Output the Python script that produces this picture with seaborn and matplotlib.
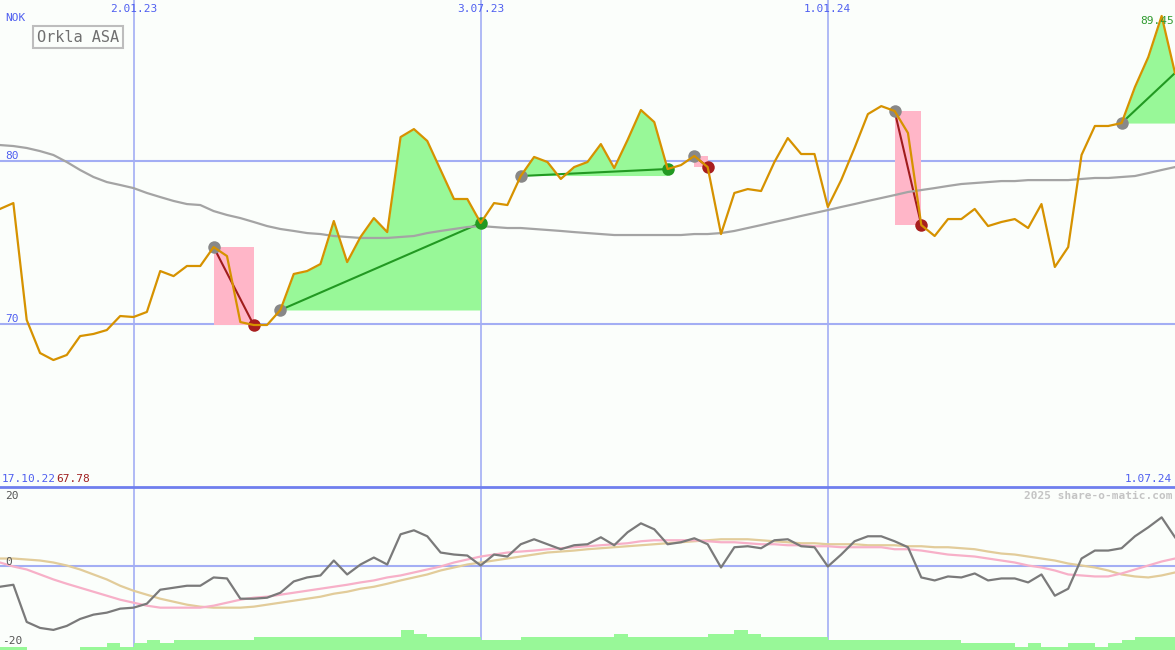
import numpy as np
import pandas as pd
import seaborn as sns
import matplotlib
matplotlib.use("Agg")
import matplotlib.pyplot as plt

# weekly closes, Orkla ASA (NOK)
price = [77.06, 77.42, 70.25, 68.22, 67.79, 68.10, 69.26, 69.39, 69.63, 70.49,
         70.43, 70.74, 73.25, 72.94, 73.56, 73.56, 74.72, 74.17, 70.12, 69.94,
         69.94, 70.86, 73.07, 73.25, 73.68, 76.32, 73.80, 75.34, 76.50, 75.64,
         81.47, 81.96, 81.23, 79.45, 77.67, 77.67, 76.20, 77.42, 77.30, 79.08,
         80.25, 79.94, 78.90, 79.63, 79.94, 81.04, 79.57, 81.29, 83.13, 82.39,
         79.51, 79.75, 80.31, 79.63, 75.52, 78.04, 78.28, 78.16, 79.94, 81.41,
         80.43, 80.43, 77.18, 78.83, 80.80, 82.88, 83.37, 83.07, 81.72, 76.07,
         75.40, 76.44, 76.44, 77.06, 76.01, 76.26, 76.44, 75.89, 77.36, 73.50,
         74.72, 80.37, 82.15, 82.15, 82.33, 84.54, 86.38, 88.90, 85.40]

# long moving average (grey)
ma = [80.98, 80.92, 80.80, 80.61, 80.37, 79.94, 79.45, 79.02, 78.71, 78.53,
      78.34, 78.04, 77.79, 77.55, 77.36, 77.30, 76.93, 76.69, 76.50, 76.26,
      76.01, 75.83, 75.71, 75.58, 75.52, 75.40, 75.34, 75.28, 75.28, 75.28,
      75.34, 75.40, 75.58, 75.71, 75.83, 75.95, 76.01, 75.95, 75.89, 75.89,
      75.83, 75.77, 75.71, 75.64, 75.58, 75.52, 75.46, 75.46, 75.46, 75.46,
      75.46, 75.46, 75.52, 75.52, 75.58, 75.71, 75.89, 76.07, 76.26, 76.44,
      76.63, 76.81, 76.99, 77.18, 77.36, 77.55, 77.73, 77.91, 78.10, 78.22,
      78.34, 78.47, 78.59, 78.65, 78.71, 78.77, 78.77, 78.83, 78.83, 78.83,
      78.83, 78.90, 78.96, 78.96, 79.02, 79.08, 79.26, 79.45, 79.63]

# lower panel: momentum (grey), slow (pink), signal (tan)
momentum = [-6.1, -5.5, -16.7, -18.5, -19.1, -17.9, -15.8, -14.5, -13.9, -12.7,
            -12.4, -11.2, -7.0, -6.4, -5.8, -5.8, -3.3, -3.6, -9.7, -9.7,
            -9.4, -7.9, -4.5, -3.3, -2.7, 1.8, -2.4, 0.6, 2.7, 0.6,
            9.7, 10.9, 9.1, 4.2, 3.6, 3.3, 0.3, 3.6, 3.0, 6.7,
            8.2, 6.7, 5.2, 6.4, 6.7, 8.8, 6.4, 10.3, 13.0, 11.2,
            6.7, 7.3, 8.5, 6.7, -0.3, 5.8, 6.1, 5.5, 7.9, 8.2,
            6.1, 5.8, 0.0, 3.6, 7.6, 9.1, 9.1, 7.6, 5.8, -3.3,
            -4.2, -3.0, -3.3, -2.1, -4.2, -3.6, -3.6, -4.8, -2.4, -8.8,
            -6.7, 2.4, 4.8, 4.8, 5.5, 9.1, 11.8, 14.8, 8.8]
slow = [1.2, 0.0, -0.9, -2.4, -3.9, -5.2, -6.4, -7.6, -8.8, -10.0,
        -10.9, -11.8, -12.4, -12.4, -12.4, -12.4, -11.8, -10.9, -10.0, -9.4,
        -9.1, -8.5, -7.9, -7.3, -6.7, -6.1, -5.5, -4.8, -4.2, -3.3,
        -2.7, -1.8, -0.9, 0.0, 1.2, 2.1, 3.0, 3.6, 4.2, 4.5,
        4.8, 5.2, 5.5, 5.8, 6.1, 6.4, 6.7, 7.0, 7.6, 7.9,
        7.9, 7.9, 7.9, 7.6, 7.3, 7.3, 7.0, 6.7, 6.7, 6.4,
        6.4, 6.1, 6.1, 5.8, 5.8, 5.8, 5.8, 5.2, 5.2, 4.8,
        4.2, 3.6, 3.3, 3.0, 2.4, 1.8, 1.2, 0.3, -0.3, -1.2,
        -2.4, -2.7, -3.0, -3.0, -2.1, -0.9, 0.3, 1.5, 2.4]
signal = [2.4, 2.4, 2.1, 1.8, 1.2, 0.3, -0.9, -2.4, -3.9, -5.8,
          -7.3, -8.5, -9.7, -10.6, -11.5, -12.1, -12.4, -12.4, -12.4, -12.1,
          -11.5, -10.9, -10.3, -9.7, -9.1, -8.2, -7.6, -6.7, -6.1, -5.2,
          -4.2, -3.3, -2.4, -1.2, -0.3, 0.6, 1.2, 1.8, 2.4, 3.0,
          3.6, 4.2, 4.5, 4.8, 5.2, 5.5, 5.8, 6.1, 6.4, 6.7,
          7.0, 7.3, 7.6, 7.9, 8.2, 8.2, 8.2, 7.9, 7.6, 7.3,
          7.0, 7.0, 6.7, 6.7, 6.7, 6.4, 6.4, 6.4, 6.1, 6.1,
          5.8, 5.8, 5.5, 5.2, 4.5, 3.9, 3.6, 3.0, 2.4, 1.8,
          0.9, 0.3, -0.3, -1.2, -2.4, -3.0, -3.3, -2.7, -1.8]
volume = [1, 1, 0, 0, 0, 0, 1, 1, 2, 1,
          2, 3, 2, 3, 3, 3, 3, 3, 3, 4,
          4, 4, 4, 4, 4, 4, 4, 4, 4, 4,
          6, 5, 4, 4, 4, 4, 3, 3, 3, 4,
          4, 4, 4, 4, 4, 4, 5, 4, 4, 4,
          4, 4, 4, 5, 5, 6, 5, 4, 4, 4,
          4, 4, 3, 3, 3, 3, 3, 3, 3, 3,
          3, 3, 2, 2, 2, 2, 1, 2, 1, 1,
          2, 2, 1, 2, 3, 4, 4, 4, 4]

date_pos = [10, 36, 62]
date_labels = ["2.01.23", "3.07.23", "1.01.24"]

# trades: entry week, exit week, winner?, closed?
entries = [16, 21, 39, 52, 67, 84]
exits = [19, 36, 50, 53, 69, 88]
winners = [False, True, True, False, False, True]
closed = [True, True, True, True, True, False]

df = pd.DataFrame({"week": np.arange(len(price)), "price": price, "ma": ma,
                   "momentum": momentum, "slow": slow, "signal": signal,
                   "volume": volume})

bg = "#fbfefb"
grid = "#a3aef4"
blue = "#4f5ff0"
W, H = 1175, 650

fig = plt.figure(figsize=(W / 100, H / 100), dpi=100, facecolor=bg)
ax = fig.add_axes([0, 163 / H, 1, 487 / H])
ax2 = fig.add_axes([0, 0, 1, 163 / H])

for a in (ax, ax2):
    a.set_facecolor(bg)
    a.set_xlim(0, 88.0)
    a.set_xticks([])
    a.set_yticks([])
    for s in a.spines.values():
        s.set_visible(False)
    for x in date_pos:
        a.axvline(x, color=grid, lw=1.2, zorder=1)

ax.set_ylim(60.0, 89.88)
ax2.set_ylim(-25.15, 23.94)
ax.axhline(80, color=grid, lw=1.5, zorder=1)
ax.axhline(70, color=grid, lw=1.5, zorder=1)
ax2.axhline(0, color=grid, lw=1.5, zorder=1)
ax2.spines["top"].set_visible(True)
ax2.spines["top"].set_color("#6f7fee")
ax2.spines["top"].set_linewidth(2)

# trade shading, lines and markers
wk = df["week"].to_numpy()
pr = df["price"].to_numpy()
for e0, e1, win, done in zip(entries, exits, winners, closed):
    p0, p1 = pr[e0], pr[e1]
    if win:
        seg = slice(e0, e1 + 1)
        ax.fill_between(wk[seg], pr[seg], p0, where=pr[seg] >= p0,
                        interpolate=True, color="#98f898", lw=0, zorder=2)
        ax.fill_between(wk[seg], pr[seg], p0, where=pr[seg] < p0,
                        interpolate=True, color="#ffb6c8", lw=0, zorder=2)
        ax.plot([e0, e1], [p0, p1], color="#229922", lw=1.5, zorder=3)
    else:
        ax.fill_between([e0, e1], [p1, p1], [p0, p0], color="#ffb6c8",
                        lw=0, zorder=2)
        ax.plot([e0, e1], [p0, p1], color="#a01c1c", lw=1.5, zorder=3)
    ax.plot(e0, p0, "o", color="#888888", ms=9, mec="none", zorder=4)
    if done:
        ax.plot(e1, p1, "o", color="#229922" if win else "#a81e1e", ms=9,
                mec="none", zorder=4)

sns.lineplot(data=df, x="week", y="ma", ax=ax, color="#a4a4a4", lw=1.6, zorder=3)
sns.lineplot(data=df, x="week", y="price", ax=ax, color="#d69200", lw=1.6, zorder=5)

sns.lineplot(data=df, x="week", y="signal", ax=ax2, color="#e2cc9a", lw=1.6, zorder=3)
sns.lineplot(data=df, x="week", y="slow", ax=ax2, color="#f7b0c8", lw=1.6, zorder=3)
sns.lineplot(data=df, x="week", y="momentum", ax=ax2, color="#7a7a7a", lw=1.6, zorder=4)

ax3 = ax2.twinx()
ax3.bar(df["week"], df["volume"], width=1.0, align="edge", color="#98f898", lw=0)
ax3.set_ylim(0, 50)
ax3.set_xlim(0, 88.0)
ax3.set_yticks([])
for s in ax3.spines.values():
    s.set_visible(False)

for a in (ax, ax2, ax3):
    a.set_xlabel("")
    a.set_ylabel("")


def fx(x, y):
    return x / W, 1 - y / H


mono = "DejaVu Sans Mono"
for x, lab in zip(date_pos, date_labels):
    fig.text(*fx(x * 13.35, 9), lab, ha="center", va="center", color=blue,
             family=mono, fontsize=8)
fig.text(*fx(5, 18), "NOK", ha="left", va="center", color=blue, family=mono, fontsize=8)
fig.text(*fx(5, 156), "80", ha="left", va="center", color=blue, family=mono, fontsize=8)
fig.text(*fx(5, 319), "70", ha="left", va="center", color=blue, family=mono, fontsize=8)
fig.text(*fx(1140, 21), "89.45", ha="left", va="center", color="#2e9a2e",
         family=mono, fontsize=8)
fig.text(*fx(2, 479), "17.10.22", ha="left", va="center", color=blue,
         family=mono, fontsize=8)
fig.text(*fx(56, 479), "67.78", ha="left", va="center", color="#a02020",
         family=mono, fontsize=8)
fig.text(*fx(1172, 479), "1.07.24", ha="right", va="center", color=blue,
         family=mono, fontsize=8)
fig.text(*fx(78, 37), "Orkla ASA", ha="center", va="center", color="#707070",
         family=mono, fontsize=11,
         bbox=dict(boxstyle="square,pad=0.25", fc=bg, ec="#bdbdbd", lw=1.5))
fig.text(*fx(1172, 496), "2025 share-o-matic.com", ha="right", va="center",
         color="#c4c4c4", family=mono, fontsize=8, fontweight="bold")
fig.text(*fx(5, 496), "20", ha="left", va="center", color="#555555", family=mono, fontsize=8)
fig.text(*fx(5, 562), "0", ha="left", va="center", color="#555555", family=mono, fontsize=8)
fig.text(*fx(2, 641), "-20", ha="left", va="center", color="#555555", family=mono, fontsize=8)

fig.savefig("out.png", dpi=100, facecolor=bg)
